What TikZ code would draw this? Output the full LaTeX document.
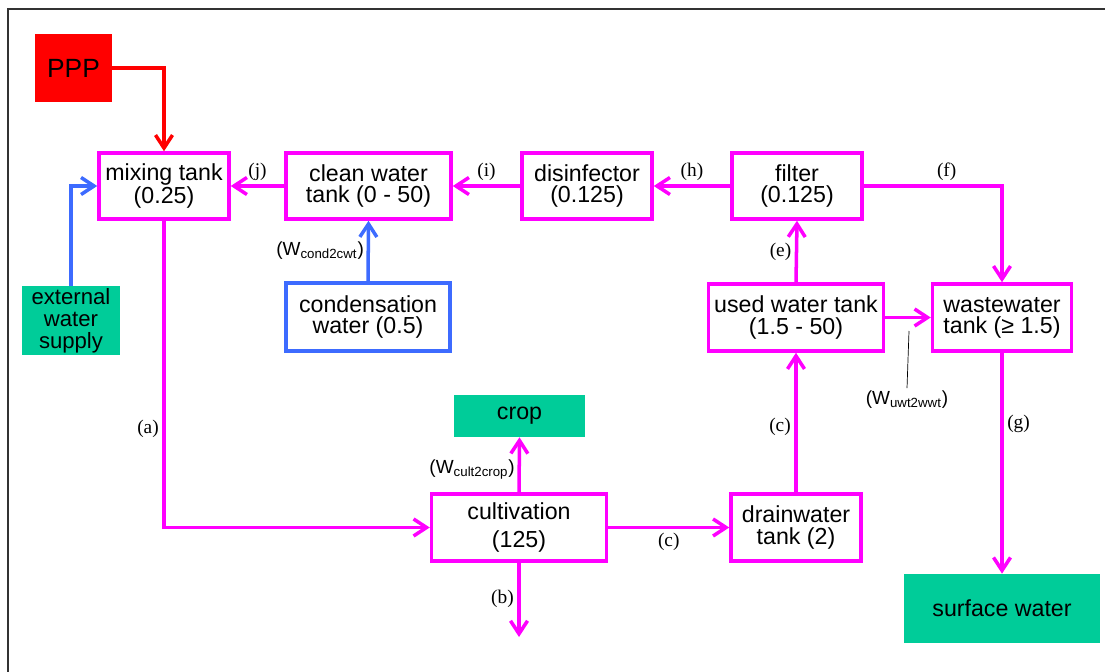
\documentclass[tikz,border=0pt]{standalone}
\usepackage{fontspec}
\setmainfont{Liberation Sans}
\newfontfamily\lblserif{Liberation Serif}
\usetikzlibrary{arrows.meta,positioning,calc}

\definecolor{flowmag}{HTML}{FF00FF}
\definecolor{condblue}{HTML}{3D6BFF}
\definecolor{sinkgreen}{HTML}{00CC99}
\definecolor{pppred}{HTML}{FF0000}
\definecolor{framegrey}{HTML}{333333}

\newcommand{\wflow}[1]{(W\textsubscript{#1})}

\begin{document}
\begin{tikzpicture}[
    x=0.02cm, y=-0.02cm,
    tank/.style={draw=flowmag, line width=2pt, fill=white, align=center,
                 inner sep=1pt, font=\fontsize{13.2pt}{12pt}\selectfont},
    sink/.style={fill=sinkgreen, align=center, inner sep=1pt,
                 font=\fontsize{13.2pt}{13pt}\selectfont},
    flow/.style={-{Straight Barb[length=2.6mm,width=3.4mm]}, line width=2pt, draw=flowmag},
    lbl/.style={font=\lblserif\fontsize{11pt}{11pt}\selectfont, inner sep=2pt},
    wlbl/.style={font=\fontsize{10.8pt}{10pt}\selectfont, inner sep=1.5pt}
]
\useasboundingbox (0,0) rectangle (1105,672);
\draw[framegrey, line width=1.2pt] (8,672) -- (8,9) -- (1105,9);

%% ── Nodes ────────────────────────────────────────────────────────
\node[fill=pppred, minimum width=1.54cm, minimum height=1.36cm,
      font=\fontsize{15pt}{15pt}\selectfont] (ppp) at (73.5,68) {PPP};

\node[tank, minimum width=2.6cm,  minimum height=1.32cm] (mix)    at (164,186)   {mixing tank\\(0.25)};
\node[tank, minimum width=3.3cm,  minimum height=1.32cm] (clean)  at (368.5,186) {clean water\\tank (0 - 50)};
\node[tank, minimum width=2.6cm,  minimum height=1.32cm] (disinf) at (587,186)   {disinfector\\(0.125)};
\node[tank, minimum width=2.6cm,  minimum height=1.32cm] (filter) at (797,186)   {filter\\(0.125)};

\node[sink, minimum width=1.96cm, minimum height=1.38cm,
      font=\fontsize{12.6pt}{12.4pt}\selectfont] (ext) at (71,320.5) {external\\water\\supply};
\node[tank, draw=condblue, minimum width=3.28cm, minimum height=1.36cm] (cond) at (368,317) {condensation\\water (0.5)};

\node[tank, minimum width=3.5cm,  minimum height=1.34cm] (used)  at (796,317.5)  {used water tank\\(1.5 - 50)};
\node[tank, minimum width=2.78cm, minimum height=1.34cm] (waste) at (1002,317.5) {wastewater\\tank (≥ 1.5)};

\node[sink, minimum width=2.62cm, minimum height=0.84cm] (crop) at (519.5,416) {crop};
\node[tank, minimum width=3.5cm,  minimum height=1.34cm,
      font=\fontsize{13.2pt}{16pt}\selectfont] (cult) at (519,527.5) {cultivation\\(125)};
\node[tank, minimum width=2.6cm,  minimum height=1.34cm] (drain) at (796,527.5) {drainwater\\tank (2)};

\node[sink, minimum width=3.92cm, minimum height=1.38cm] (surf) at (1002,608.5) {surface water};

\coordinate (drainout) at (519,637);
\coordinate (uwtip)    at (909,331);
\node[wlbl] (uwlbl) at (907,400) {\wflow{uwt2wwt}};

%% ── Arrows ───────────────────────────────────────────────────────
\draw[flow, draw=pppred]   (ppp.east)   -| (mix.north);
\draw[flow, draw=condblue] (ext.north)  |- (mix.west);
\draw[flow, draw=condblue] (cond.north) -- node[wlbl, left] {\wflow{cond2cwt}} (clean.south);

\draw[flow] (clean.west)  -- node[lbl, above] {(j)} (mix.east);
\draw[flow] (disinf.west) -- node[lbl, above] {(i)} (clean.east);
\draw[flow] (filter.west) -- node[lbl, above] {(h)} (disinf.east);
\draw[flow] (filter.east) -| node[lbl, above, pos=0.3] {(f)} (waste.north);

\draw[flow] (mix.south)   |- node[lbl, left, pos=0.34] {(a)} (cult.west);
\draw[flow] (cult.north)  -- node[wlbl, left, pos=0.41] {\wflow{cult2crop}} (crop.south);
\draw[flow] (cult.south)  -- node[lbl, left, pos=0.48] {(b)} (drainout);
\draw[flow] (cult.east)   -- node[lbl, below] {(c)} (drain.west);
\draw[flow] (drain.north) -- node[lbl, left, pos=0.47] {(c)} (used.south);
\draw[flow] (used.north)  -- node[lbl, left] {(e)} (filter.south);
\draw[flow] (used.east)   -- (waste.west);
\draw[flow] (waste.south) -- node[lbl, right, pos=0.32] {(g)} (surf.north);

\draw[thin] (uwtip) -- (uwlbl.north);
\end{tikzpicture}
\end{document}
